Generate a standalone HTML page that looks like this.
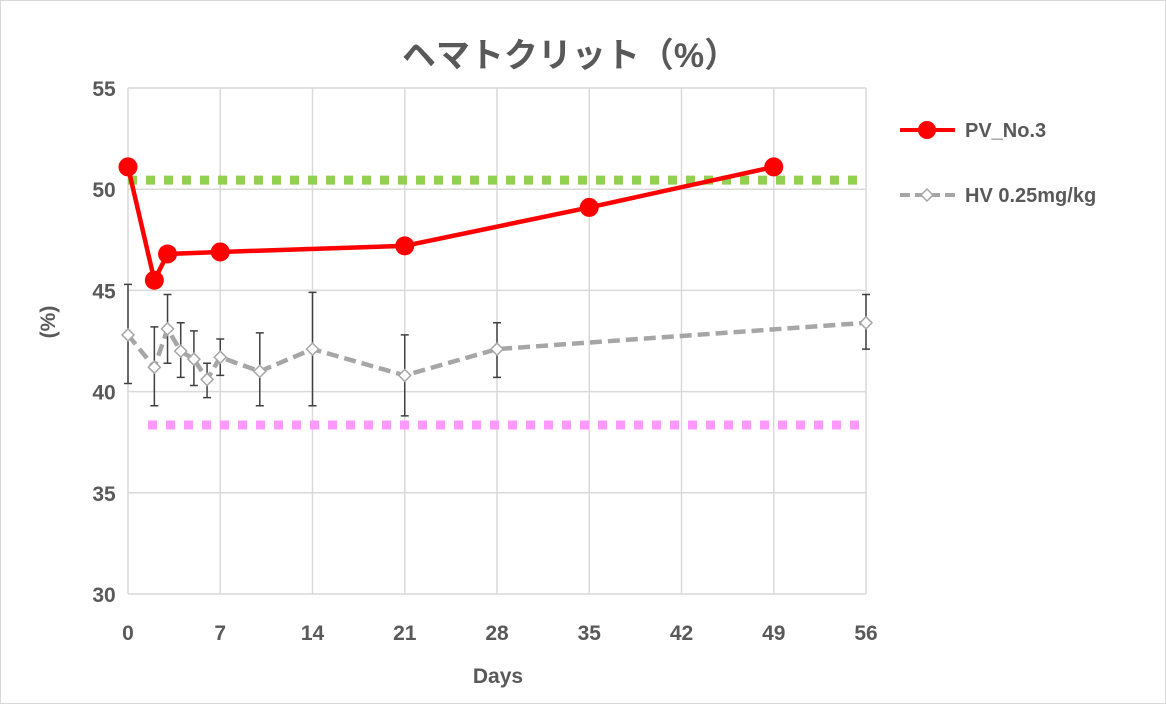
<!DOCTYPE html>
<html><head><meta charset="utf-8">
<style>
html,body{margin:0;padding:0;background:#fff;}
svg text{font-family:"Liberation Sans","Noto Sans CJK JP",sans-serif;}
</style></head>
<body>
<svg id="chart" width="1166" height="704" viewBox="0 0 1166 704" xmlns="http://www.w3.org/2000/svg">
<rect x="0.5" y="0.5" width="1165" height="703" fill="#fff" stroke="#d9d9d9"/>
<text x="570" y="67" text-anchor="middle" font-size="34" font-weight="bold" fill="#595959">ヘマトクリット（%）</text>
<g id="grid"></g>
<g id="axes"></g>
<g id="series"></g>
<text x="498" y="683" text-anchor="middle" font-size="21" font-weight="bold" fill="#595959">Days</text>
<text transform="translate(55,322) rotate(-90)" text-anchor="middle" font-size="21" font-weight="bold" fill="#595959">(%)</text>
<g>
<g>
<line x1="900" y1="130" x2="955" y2="130" stroke="#ff0000" stroke-width="4"/>
<circle cx="927" cy="130" r="9" fill="#ff0000"/>
<text x="965" y="137" font-size="20" font-weight="bold" fill="#595959">PV_No.3</text>
</g>
<g>
<line x1="900" y1="195" x2="955" y2="195" stroke="#a6a6a6" stroke-width="4" stroke-dasharray="10,5"/>
<path d="M927 189 L933 195 L927 201 L921 195 Z" fill="#fff" stroke="#a6a6a6" stroke-width="1.5"/>
<text x="965" y="202" font-size="20" font-weight="bold" fill="#595959">HV 0.25mg/kg</text>
</g>
</g>
</svg>
<script>
const xTicks=[0,7,14,21,28,35,42,49,56];
const yTicks=[30,35,40,45,50,55];
const pvDays=[0,2,3,7,21,35,49];
const pvValues=[51.1,45.5,46.8,46.9,47.2,49.1,51.1];
const hvDays=[0,2,3,4,5,6,7,10,14,21,28,56];
const hvValues=[42.8,41.2,43.1,42.0,41.6,40.6,41.7,41.0,42.1,40.8,42.1,43.4];
const hvLow=[40.4,39.3,41.4,40.7,40.3,39.7,40.8,39.3,39.3,38.8,40.7,42.1];
const hvHigh=[45.3,43.2,44.8,43.4,43.0,41.4,42.6,42.9,44.9,42.8,43.4,44.8];
const upperRef=[50.45];
const lowerRef=[38.35];
const X0=128,X1=866,Y0=594,Y1=88;
const xs=d=>X0+(d-0)/56*(X1-X0);
const ys=v=>Y0-(v-30)/25*(Y0-Y1);
const NS="http://www.w3.org/2000/svg";
function mk(tag,attrs,parent){const e=document.createElementNS(NS,tag);for(const k in attrs)e.setAttribute(k,attrs[k]);parent.appendChild(e);return e;}
const grid=document.getElementById('grid'),axes=document.getElementById('axes'),ser=document.getElementById('series');
yTicks.forEach(t=>{
 const l=mk('line',{x1:X0,x2:X1,y1:ys(t),y2:ys(t),stroke:'#d9d9d9','stroke-width':1.5},grid);
 
 
 const tx=mk('text',{x:104,y:ys(t)+8,'text-anchor':'middle','font-size':21,'font-weight':'bold',fill:'#595959'},axes);
 tx.textContent=t;
 
 
});
xTicks.forEach(t=>{
 const l=mk('line',{x1:xs(t),x2:xs(t),y1:Y1,y2:Y0,stroke:'#d9d9d9','stroke-width':1.5},grid);
 
 
 const tx=mk('text',{x:xs(t),y:640,'text-anchor':'middle','font-size':21,'font-weight':'bold',fill:'#595959'},axes);
 tx.textContent=t;
 
 
});
const g1=mk('line',{x1:X0,x2:X1,y1:ys(upperRef[0]),y2:ys(upperRef[0]),stroke:'#92d050','stroke-width':9,'stroke-dasharray':'9,9'},ser);


const g2=mk('line',{x1:148,x2:X1,y1:ys(lowerRef[0]),y2:ys(lowerRef[0]),stroke:'#ff99ff','stroke-width':9,'stroke-dasharray':'9,9'},ser);


// error bars
hvDays.forEach((d,i)=>{
 const x=xs(d);
 const eb=mk('path',{d:`M${x} ${ys(hvLow[i])}V${ys(hvHigh[i])}M${x-4} ${ys(hvLow[i])}h8M${x-4} ${ys(hvHigh[i])}h8`,stroke:'#404040','stroke-width':1.5,fill:'none'},ser);
 
 
});
const hvLine=mk('polyline',{points:hvDays.map((d,i)=>xs(d)+','+ys(hvValues[i])).join(' '),fill:'none',stroke:'#a6a6a6','stroke-width':4.5,'stroke-dasharray':'12,6'},ser);


hvDays.forEach((d,i)=>{
 const x=xs(d),y=ys(hvValues[i]);
 const p=mk('path',{d:`M${x} ${y-6}L${x+6} ${y}L${x} ${y+6}L${x-6} ${y}Z`,fill:'#fff',stroke:'#a6a6a6','stroke-width':1.5},ser);
 
 
});
const pvLine=mk('polyline',{points:pvDays.map((d,i)=>xs(d)+','+ys(pvValues[i])).join(' '),fill:'none',stroke:'#ff0000','stroke-width':4.5},ser);


pvDays.forEach((d,i)=>{
 const c=mk('circle',{cx:xs(d),cy:ys(pvValues[i]),r:9.5,fill:'#ff0000'},ser);
 
 
});
</script>
</body></html>
